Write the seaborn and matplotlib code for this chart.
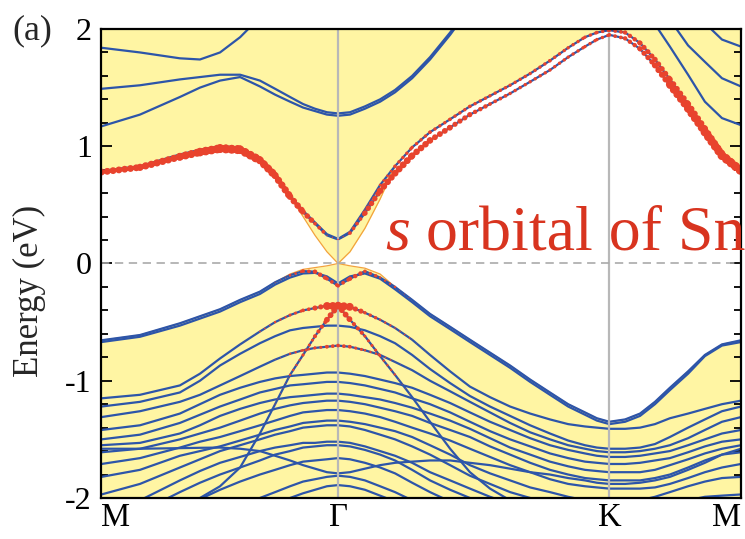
import numpy as np
import pandas as pd
import matplotlib
matplotlib.use("Agg")
import matplotlib.pyplot as plt
import seaborn as sns
from matplotlib.collections import LineCollection
from matplotlib.ticker import MultipleLocator

sns.set_theme(style="ticks")
plt.rcParams['font.family'] = ['Liberation Serif', 'DejaVu Serif']
plt.rcParams['lines.scale_dashes'] = False

# ---------------- data ----------------
k_labels = ['M', 'Γ', 'K', 'M']
k_label_pos = [0.0, 0.872, 1.872, 2.357]
y_ticks = [-2, -1, 0, 1, 2]
y_tick_labels = ['-2', '-1', '0', '1', '2']

# k sampling: M-Γ (13), Γ-K (16), K-M (8)
k_grid = [0.0, 0.142, 0.289, 0.363, 0.437, 0.511, 0.584, 0.640, 0.695, 0.743, 0.787, 0.831, 0.872,
          0.916, 0.971, 1.027, 1.082, 1.145, 1.211, 1.285, 1.358, 1.432, 1.506, 1.580, 1.653, 1.720, 1.782, 1.826, 1.872,
          1.930, 1.985, 2.040, 2.095, 2.162, 2.224, 2.287, 2.357]

N = None
# conduction bands
cb1 = [0.78, 0.82, 0.91, 0.95, 0.98, 0.97, 0.88, 0.75, 0.57, 0.44, 0.34, 0.24, 0.205,
       0.26, 0.43, 0.62, 0.77, 0.92, 1.05, 1.16, 1.27, 1.36, 1.45, 1.55, 1.65, 1.76, 1.85, 1.91, 1.95,
       1.92, 1.83, 1.69, 1.52, 1.32, 1.12, 0.92, 0.79]
cb2 = [0.79, 0.83, 0.93, 0.97, 1.00, 0.99, 0.90, 0.77, 0.58, 0.45, 0.35, 0.25, 0.21,
       0.27, 0.46, 0.67, 0.83, 0.99, 1.12, 1.23, 1.34, 1.43, 1.52, 1.62, 1.73, 1.84, 1.93, 1.97, 1.99,
       1.97, 1.88, 1.74, 1.57, 1.36, 1.15, 0.94, 0.80]
cb3 = [1.84, 1.80, 1.75, 1.74, 1.80, 1.93, 2.10, N, N, N, N, N, N,
       N, N, N, N, N, N, N, N, N, N, N, N, N, N, N, N,
       N, N, N, N, N, N, N, N]
cb4 = [1.49, 1.52, 1.57, 1.59, 1.61, 1.61, 1.56, 1.49, 1.42, 1.36, 1.32, 1.29, 1.28,
       1.29, 1.34, 1.40, 1.48, 1.60, 1.76, 1.97, 2.20, N, N, N, N, N, N, N, N,
       N, N, N, N, N, N, N, N]
cb5 = [1.17, 1.27, 1.42, 1.50, 1.56, 1.59, 1.51, 1.44, 1.38, 1.33, 1.30, 1.27, 1.26,
       1.27, 1.32, 1.38, 1.46, 1.58, 1.74, 1.95, 2.18, N, N, N, N, N, N, N, N,
       N, N, N, N, N, N, N, N]
cb6 = [N, N, N, N, N, N, N, N, N, N, N, N, N,
       N, N, N, N, N, N, N, N, N, N, N, N, N, N, N, N,
       N, 2.35, 2.04, 1.85, 1.61, 1.38, 1.24, 1.18]
cb7 = [N, N, N, N, N, N, N, N, N, N, N, N, N,
       N, N, N, N, N, N, N, N, N, N, N, N, N, N, N, N,
       N, N, N, 2.08, 1.86, 1.72, 1.58, 1.51]
cb8 = [N, N, N, N, N, N, N, N, N, N, N, N, N,
       N, N, N, N, N, N, N, N, N, N, N, N, N, N, N, N,
       N, N, N, N, N, 2.05, 1.91, 1.85]

# valence bands
vb1 = [-0.655, -0.61, -0.51, -0.45, -0.39, -0.31, -0.24, -0.16, -0.10, -0.065, -0.07, -0.13, -0.19,
       -0.13, -0.066, -0.12, -0.20, -0.31, -0.43, -0.54, -0.65, -0.76, -0.87, -0.99, -1.10, -1.20, -1.27, -1.32, -1.35,
       -1.33, -1.28, -1.18, -1.06, -0.92, -0.78, -0.69, -0.655]
vb1b = [-0.67, -0.625, -0.53, -0.47, -0.41, -0.33, -0.26, -0.18, -0.12, -0.085, -0.08, -0.11, -0.17,
        -0.11, -0.085, -0.13, -0.22, -0.33, -0.45, -0.56, -0.67, -0.78, -0.89, -1.01, -1.12, -1.22, -1.29, -1.34, -1.37,
        -1.35, -1.30, -1.20, -1.08, -0.94, -0.79, -0.70, -0.67]
vb2 = [-1.15, -1.12, -1.04, -0.94, -0.81, -0.69, -0.58, -0.50, -0.44, -0.40, -0.38, -0.36, -0.36,
       -0.37, -0.42, -0.48, -0.55, -0.65, -0.78, -0.92, -1.05, -1.14, -1.22, -1.28, -1.33, -1.37, -1.39, -1.40, -1.41,
       -1.41, -1.40, -1.37, -1.32, -1.28, -1.24, -1.20, -1.17]
vb3 = [-1.22, -1.18, -1.10, -1.00, -0.87, -0.77, -0.68, -0.62, -0.57, -0.55, -0.54, -0.53, -0.53,
       -0.54, -0.57, -0.62, -0.68, -0.78, -0.90, -1.02, -1.13, -1.22, -1.30, -1.38, -1.45, -1.51, -1.55, -1.57, -1.58,
       -1.58, -1.57, -1.54, -1.48, -1.40, -1.33, -1.26, -1.22]
vb4 = [-1.31, -1.26, -1.18, -1.12, -1.04, -0.96, -0.88, -0.82, -0.77, -0.74, -0.72, -0.71, -0.70,
       -0.71, -0.74, -0.78, -0.84, -0.91, -1.00, -1.09, -1.18, -1.27, -1.36, -1.44, -1.50, -1.55, -1.58, -1.60, -1.61,
       -1.61, -1.60, -1.58, -1.55, -1.49, -1.42, -1.35, -1.31]
vb5 = [-1.42, -1.38, -1.28, -1.20, -1.12, -1.06, -1.01, -0.98, -0.96, -0.95, -0.94, -0.93, -0.93,
       -0.94, -0.96, -0.99, -1.02, -1.06, -1.12, -1.19, -1.27, -1.35, -1.42, -1.49, -1.55, -1.59, -1.62, -1.64, -1.65,
       -1.65, -1.64, -1.62, -1.60, -1.55, -1.50, -1.45, -1.42]
vb6 = [-1.50, -1.46, -1.36, -1.29, -1.22, -1.16, -1.10, -1.07, -1.04, -1.03, -1.02, -1.01, -1.01,
       -1.02, -1.04, -1.07, -1.10, -1.15, -1.20, -1.27, -1.35, -1.43, -1.50, -1.56, -1.62, -1.66, -1.69, -1.70, -1.71,
       -1.71, -1.70, -1.68, -1.66, -1.61, -1.56, -1.52, -1.50]
vb7 = [-1.55, -1.53, -1.45, -1.38, -1.30, -1.24, -1.19, -1.16, -1.14, -1.13, -1.12, -1.11, -1.11,
       -1.12, -1.14, -1.16, -1.19, -1.23, -1.28, -1.34, -1.41, -1.49, -1.57, -1.63, -1.69, -1.73, -1.76, -1.77, -1.78,
       -1.78, -1.78, -1.76, -1.72, -1.67, -1.62, -1.58, -1.55]
vb8 = [-1.61, -1.58, -1.50, -1.45, -1.40, -1.34, -1.28, -1.24, -1.21, -1.19, -1.18, -1.17, -1.17,
       -1.18, -1.20, -1.23, -1.26, -1.30, -1.36, -1.42, -1.48, -1.56, -1.63, -1.70, -1.76, -1.80, -1.83, -1.84, -1.85,
       -1.85, -1.85, -1.83, -1.80, -1.74, -1.68, -1.63, -1.61]
vb9 = [-1.71, -1.66, -1.57, -1.52, -1.48, -1.43, -1.38, -1.34, -1.30, -1.27, -1.26, -1.25, -1.25,
       -1.26, -1.28, -1.31, -1.35, -1.40, -1.45, -1.51, -1.58, -1.65, -1.72, -1.78, -1.84, -1.88, -1.90, -1.91, -1.92,
       -1.92, -1.92, -1.91, -1.88, -1.83, -1.78, -1.74, -1.71]
vb10 = [-1.82, -1.76, -1.64, -1.60, -1.56, -1.51, -1.46, -1.42, -1.39, -1.36, -1.35, -1.34, -1.34,
        -1.35, -1.37, -1.40, -1.43, -1.48, -1.55, -1.63, -1.72, -1.79, -1.85, -1.91, -1.95, -1.99, -2.02, -2.04, -2.05,
        -2.04, -2.02, -1.99, -1.95, -1.90, -1.86, -1.83, -1.82]
vb11 = [-1.97, -1.88, -1.74, -1.67, -1.60, -1.55, -1.50, -1.46, -1.43, -1.40, -1.39, -1.38, -1.38,
        -1.39, -1.42, -1.46, -1.50, -1.56, -1.63, -1.72, -1.81, -1.88, -1.95, -2.00, -2.05, -2.09, -2.12, -2.14, -2.15,
        -2.14, -2.12, -2.08, -2.05, -2.02, -1.99, -1.98, -1.97]
vb12 = [-2.10, -2.02, -1.85, -1.77, -1.70, -1.65, -1.60, -1.57, -1.55, -1.53, -1.53, -1.52, -1.52,
        -1.53, -1.56, -1.60, -1.64, -1.70, -1.78, -1.85, -1.92, -1.99, -2.05, -2.10, -2.15, -2.19, -2.22, -2.24, -2.25,
        -2.24, -2.22, -2.18, -2.15, -2.13, -2.12, -2.11, -2.10]
vb13 = [-2.20, -2.12, -1.95, -1.87, -1.80, -1.74, -1.68, -1.63, -1.60, -1.57, -1.56, -1.55, -1.55,
        -1.56, -1.59, -1.63, -1.68, -1.76, -1.85, -1.93, -2.00, -2.06, -2.12, -2.17, -2.22, -2.26, -2.28, -2.29, -2.30,
        -2.29, -2.28, -2.26, -2.24, -2.22, -2.21, -2.20, -2.20]
vb14 = [-2.35, -2.25, -2.10, -2.01, -1.93, -1.86, -1.80, -1.76, -1.72, -1.69, -1.68, -1.67, -1.66,
        -1.67, -1.70, -1.74, -1.79, -1.87, -1.95, -2.03, -2.10, -2.16, -2.22, -2.26, -2.30, -2.33, -2.35, -2.36, -2.37,
        -2.36, -2.35, -2.35, -2.36, -2.36, -2.35, -2.35, -2.35]
vb15 = [-2.60, -2.50, -2.35, -2.25, -2.15, -2.07, -2.00, -1.95, -1.90, -1.86, -1.84, -1.82, -1.81,
        -1.82, -1.85, -1.90, -1.95, -2.02, -2.10, -2.18, -2.25, -2.30, -2.35, -2.39, -2.42, -2.45, -2.47, -2.49, -2.50,
        -2.50, -2.50, -2.52, -2.55, -2.58, -2.60, -2.60, -2.60]
vb16 = [-2.70, -2.60, -2.45, -2.38, -2.30, -2.21, -2.12, -2.06, -2.00, -1.96, -1.93, -1.90, -1.89,
        -1.90, -1.93, -1.98, -2.03, -2.10, -2.18, -2.25, -2.32, -2.37, -2.42, -2.46, -2.50, -2.53, -2.55, -2.58, -2.60,
        -2.60, -2.60, -2.62, -2.65, -2.68, -2.70, -2.70, -2.70]
vb17 = [-1.58, -1.58, -1.575, -1.572, -1.57, -1.58, -1.60, -1.64, -1.68, -1.72, -1.75, -1.78, -1.79,
        -1.78, -1.75, -1.72, -1.70, -1.69, -1.68, -1.68, -1.70, -1.72, -1.75, -1.78, -1.80, -1.83, -1.85, -1.87, -1.88,
        -1.88, -1.87, -1.85, -1.82, -1.76, -1.70, -1.63, -1.58]
vb18 = [-2.30, -2.22, -2.08, -2.00, -1.90, -1.74, -1.45, -1.20, -0.95, -0.78, -0.62, -0.48, -0.36,
        -0.48, -0.62, -0.79, -0.95, -1.14, -1.35, -1.58, -1.78, -1.92, -2.02, -2.12, -2.20, -2.28, -2.35, -2.38, -2.40,
        -2.40, -2.38, -2.34, -2.30, -2.27, -2.25, -2.27, -2.30]

# edges of the projected bulk bands (yellow regions)
cond_edge = [0.78, 0.82, 0.91, 0.95, 0.98, 0.97, 0.88, 0.75, 0.57, 0.40, 0.24, 0.10, 0.0,
             0.10, 0.30, 0.55, 0.83, 0.99, 1.12, 1.23, 1.34, 1.43, 1.52, 1.62, 1.73, 1.84, 1.93, 1.97, 1.99,
             1.97, 1.88, 1.74, 1.57, 1.36, 1.15, 0.94, 0.79]
val_edge = [-0.655, -0.61, -0.51, -0.45, -0.39, -0.31, -0.24, -0.16, -0.09, -0.05, -0.035, -0.02, 0.0,
            -0.02, -0.04, -0.09, -0.20, -0.31, -0.43, -0.54, -0.65, -0.76, -0.87, -0.99, -1.10, -1.20, -1.27, -1.32, -1.35,
            -1.33, -1.28, -1.18, -1.06, -0.92, -0.78, -0.69, -0.655]

# s-orbital weight of Sn (dot diameter, pt)
cb1_w = [5.0, 5.0, 5.5, 6.0, 6.5, 6.5, 6.0, 5.5, 5.0, 4.5, 3.5, 2.0, 0.0,
         2.0, 3.5, 4.5, 5.0, 5.0, 4.5, 4.0, 3.5, 3.0, 2.5, 2.5, 2.5, 2.5, 2.5, 2.5, 2.5,
         3.0, 3.5, 4.0, 5.0, 5.5, 6.0, 6.5, 6.5]
cb2_w = [1.5, 1.5, 2.0, 2.5, 3.0, 3.0, 3.0, 2.5, 2.0, 1.0, 0.0, 0.0, 0.0,
         0.0, 0.0, 1.5, 2.5, 2.5, 2.5, 2.5, 2.5, 2.5, 2.5, 2.5, 2.5, 2.5, 2.5, 2.5, 2.5,
         3.0, 3.5, 4.0, 4.0, 4.5, 4.5, 4.5, 4.5]
vb1_w = [0.0, 0.0, 0.0, 0.0, 0.0, 0.0, 0.0, 0.0, 1.5, 2.5, 3.0, 3.5, 2.0,
         3.5, 3.0, 2.0, 1.5, 0.0, 0.0, 0.0, 0.0, 0.0, 0.0, 0.0, 0.0, 0.0, 0.0, 0.0, 0.0,
         0.0, 0.0, 0.0, 0.0, 0.0, 0.0, 0.0, 0.0]
vb2_w = [0.0, 0.0, 0.0, 0.0, 0.0, 0.0, 1.0, 1.5, 2.0, 2.5, 3.0, 4.5, 7.0,
         4.5, 3.0, 2.0, 1.5, 1.0, 0.0, 0.0, 0.0, 0.0, 0.0, 0.0, 0.0, 0.0, 0.0, 0.0, 0.0,
         0.0, 0.0, 0.0, 0.0, 0.0, 0.0, 0.0, 0.0]
vb4_w = [0.0, 0.0, 0.0, 0.0, 0.0, 0.0, 0.0, 0.0, 1.5, 2.0, 2.0, 2.5, 3.0,
         2.5, 2.0, 1.5, 1.0, 0.0, 0.0, 0.0, 0.0, 0.0, 0.0, 0.0, 0.0, 0.0, 0.0, 0.0, 0.0,
         0.0, 0.0, 0.0, 0.0, 0.0, 0.0, 0.0, 0.0]
vb18_w = [0.0, 0.0, 0.0, 0.0, 0.0, 0.0, 0.0, 0.0, 1.5, 2.0, 2.5, 3.5, 5.0,
          3.5, 2.5, 2.0, 1.5, 0.0, 0.0, 0.0, 0.0, 0.0, 0.0, 0.0, 0.0, 0.0, 0.0, 0.0, 0.0,
          0.0, 0.0, 0.0, 0.0, 0.0, 0.0, 0.0, 0.0]

bands = {'cb1': cb1, 'cb2': cb2, 'cb3': cb3, 'cb4': cb4, 'cb5': cb5, 'cb6': cb6, 'cb7': cb7, 'cb8': cb8,
         'vb1': vb1, 'vb1b': vb1b, 'vb2': vb2, 'vb3': vb3, 'vb4': vb4, 'vb5': vb5, 'vb6': vb6,
         'vb7': vb7, 'vb8': vb8, 'vb9': vb9, 'vb10': vb10, 'vb11': vb11, 'vb12': vb12,
         'vb13': vb13, 'vb14': vb14, 'vb15': vb15, 'vb16': vb16, 'vb17': vb17, 'vb18': vb18}
weighted = [(cb1, cb1_w), (cb2, cb2_w), (vb1, vb1_w), (vb2, vb2_w), (vb4, vb4_w), (vb18, vb18_w)]

rows = []
for name, vals in bands.items():
    for kk, e in zip(k_grid, vals):
        if e is not None:
            rows.append((name, kk, e))
df = pd.DataFrame(rows, columns=['band', 'k', 'E'])

# ---------------- style ----------------
blue = '#2d55a9'
red = '#e8432d'
yellow = '#fff5a3'
orange = '#f2a23c'
grey = '#b8b8b8'
text_red = '#d8341f'

fig = plt.figure(figsize=(7.45, 5.39), dpi=100)
ax = fig.add_axes([0.1362, 0.0761, 0.8584, 0.8701])

ax.fill_between(k_grid, cond_edge, 2.5, color=yellow, lw=0, zorder=0)
ax.fill_between(k_grid, -2.5, val_edge, color=yellow, lw=0, zorder=0)
ax.plot(k_grid, cond_edge, color=orange, lw=0.9, zorder=1)
ax.plot(k_grid, val_edge, color=orange, lw=0.9, zorder=1)

sns.lineplot(data=df, x='k', y='E', units='band', estimator=None, sort=False,
             color=blue, lw=1.6, ax=ax, zorder=2, legend=False)

for kx in k_label_pos[1:3]:
    ax.axvline(kx, color=grey, lw=1.6, zorder=3)
ax.axhline(0, color='#aaaaaa', lw=1.2, ls=(0, (6, 4)), zorder=3)

for vals, w in weighted:
    segs, lws = [], []
    for i in range(len(k_grid) - 1):
        ww = 0.5 * (w[i] + w[i + 1])
        if ww <= 0.3:
            continue
        segs.append([(k_grid[i], vals[i]), (k_grid[i + 1], vals[i + 1])])
        lws.append(ww)
    lc = LineCollection(segs, colors=red, linewidths=lws,
                        linestyles=[(0, (0.01, 4.2))], capstyle='round', zorder=4)
    ax.add_collection(lc)

ax.set_xlim(k_label_pos[0], k_label_pos[-1])
ax.set_ylim(-2, 2)
ax.set_xlabel('')
ax.set_ylabel('')

ax.set_yticks(y_ticks)
ax.set_yticklabels(y_tick_labels)
ax.yaxis.set_minor_locator(MultipleLocator(0.2))
ax.tick_params(axis='y', which='both', direction='in', left=True, right=True,
               labelsize=23, pad=7, color='black', labelcolor='black')
ax.tick_params(axis='y', which='major', length=8, width=1.3)
ax.tick_params(axis='y', which='minor', length=5, width=1.3)
ax.set_xticks(k_label_pos)
ax.set_xticklabels(k_labels)
ax.tick_params(axis='x', length=0, labelsize=23.5, pad=3, labelcolor='black')
xl = ax.get_xticklabels()
xl[0].set_ha('left')
xl[-1].set_ha('right')

for s in ax.spines.values():
    s.set_color('black')
    s.set_linewidth(1.6)
    s.set_zorder(5)

fig.text(29 / 745, 1 - 291 / 539, 'Energy (eV)', rotation=90, fontsize=25,
         ha='center', va='center')
fig.text(12 / 745, 1 - 39 / 539, '(a)', fontsize=26, va='baseline')
fig.text(385 / 745, 1 - 249 / 539, 's', fontsize=46, style='italic', color=text_red, va='baseline')
fig.text(426 / 745, 1 - 249 / 539, 'orbital of Sn', fontsize=46, color=text_red, va='baseline')

fig.savefig('out.png', dpi=100)
